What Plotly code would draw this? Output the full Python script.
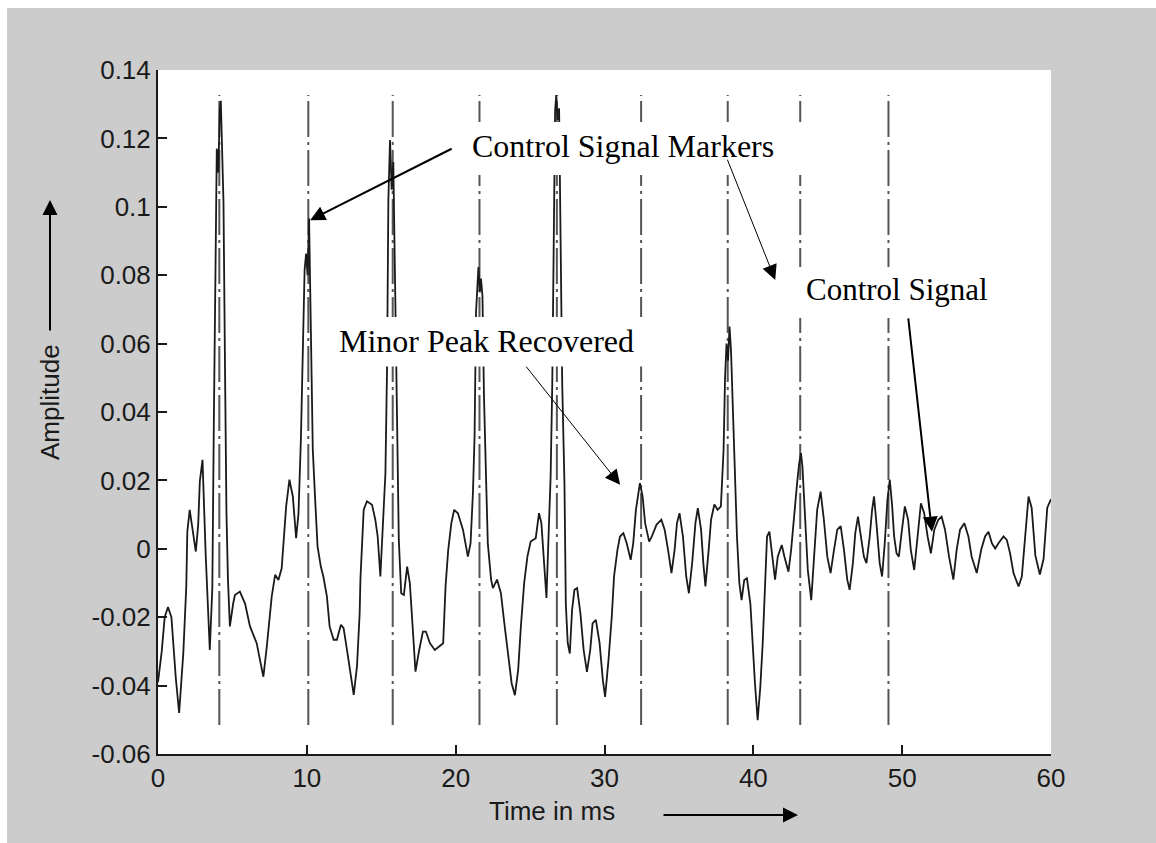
import plotly.graph_objects as go

# ---------------- data ----------------
time_ms = [
    0.0, 0.25, 0.45, 0.67, 0.9, 1.05, 1.2, 1.42, 1.7, 1.9, 1.97, 2.13, 2.36, 2.54, 2.7, 2.81, 2.99, 3.2, 3.48, 3.65,
    3.75, 3.85, 3.95, 4.05, 4.15, 4.22, 4.3, 4.4, 4.5, 4.6, 4.7, 4.83,
    5.05, 5.17, 5.5, 5.85, 6.18, 6.63, 6.85, 7.08, 7.3, 7.53, 7.64, 7.87, 8.09, 8.31, 8.47, 8.61, 8.83, 9.06, 9.28, 9.44, 9.6,
    9.75, 9.85, 9.95, 10.05, 10.15, 10.22, 10.3, 10.4, 10.56, 10.72,
    10.94, 11.11, 11.35, 11.53, 11.8, 12.02, 12.29, 12.47, 12.7, 12.92, 13.15, 13.37, 13.55, 13.6, 13.82, 14.04, 14.38, 14.6, 14.76, 14.94, 15.06,
    15.28, 15.39, 15.48, 15.59, 15.7, 15.81, 15.92, 16.0, 16.07, 16.18,
    16.34, 16.52, 16.74, 16.92, 17.08, 17.3, 17.55, 17.8, 18.0, 18.27, 18.6, 19.16, 19.32, 19.5, 19.71, 19.9, 20.15, 20.49, 20.82, 21.0,
    21.16, 21.27, 21.37, 21.53, 21.62, 21.7, 21.8, 21.9, 22.04, 22.16,
    22.38, 22.5, 22.78, 23.04, 23.27, 23.53, 23.76, 23.98, 24.2, 24.38, 24.6, 24.82, 25.04, 25.38, 25.6, 25.76, 25.93, 26.1, 26.27,
    26.38, 26.49, 26.58, 26.68, 26.76, 26.85, 26.95, 27.05, 27.16, 27.31, 27.4,
    27.53, 27.67, 27.82, 27.98, 28.16, 28.38, 28.6, 28.82, 29.04, 29.2, 29.42, 29.67, 29.89, 30.04, 30.27, 30.49, 30.64, 30.87,
    31.04, 31.27, 31.49, 31.76, 31.93, 32.11, 32.38, 32.56, 32.73, 33.0, 33.18, 33.49, 33.82, 34.04, 34.27, 34.5, 34.71, 34.87,
    35.04, 35.27, 35.49, 35.67, 35.89, 36.11, 36.27, 36.49, 36.64, 36.78, 37.0, 37.16, 37.38, 37.6, 37.82,
    38.0, 38.1, 38.2, 38.3, 38.4, 38.5, 38.6, 38.72, 38.9,
    39.06, 39.21, 39.39, 39.57, 39.8, 39.96, 40.11, 40.29, 40.47, 40.63, 40.79, 40.92, 41.08, 41.3, 41.46, 41.64, 41.91, 42.09, 42.36, 42.54,
    42.76, 42.94, 43.08, 43.2, 43.3, 43.43, 43.66,
    43.89, 44.07, 44.29, 44.52, 44.74, 44.97, 45.19, 45.42, 45.64, 45.87, 46.09, 46.31, 46.47, 46.69, 46.85, 47.03, 47.25, 47.43, 47.6,
    47.82, 47.98, 48.11, 48.27, 48.49, 48.65, 48.83, 49.01, 49.17, 49.33, 49.46, 49.62, 49.78, 49.96, 50.18, 50.4, 50.58, 50.81,
    51.03, 51.26, 51.48, 51.71, 51.93, 52.16, 52.43, 52.65, 52.88, 53.15, 53.44, 53.66, 53.89, 54.18, 54.45, 54.67, 55.01, 55.31,
    55.57, 55.8, 56.03, 56.25, 56.47, 56.81, 57.03, 57.25, 57.48, 57.82, 58.04, 58.27, 58.49, 58.7, 58.95, 59.25, 59.5, 59.75, 60.0,
]
amplitude = [
    -0.039, -0.030, -0.020, -0.017, -0.020, -0.030, -0.038, -0.048, -0.0305, -0.011, 0.005, 0.0114, 0.0036, -0.0008, 0.007, 0.0197, 0.026, -0.0013, -0.0296, -0.0115,
    0.036, 0.09, 0.117, 0.11, 0.128, 0.131, 0.118, 0.1015, 0.054, 0.0104, -0.009, -0.0227,
    -0.016, -0.0135, -0.0125, -0.016, -0.0227, -0.0276, -0.0325, -0.0374, -0.029, -0.0198, -0.014, -0.0076, -0.0091, -0.0057, 0.0026, 0.0124, 0.0202, 0.0153, 0.0031, 0.0104, 0.0319,
    0.06, 0.0815, 0.0863, 0.08, 0.0966, 0.078, 0.056, 0.029, 0.0143, 0.0007,
    -0.0052, -0.0081, -0.014, -0.0227, -0.0266, -0.0266, -0.0222, -0.0232, -0.0296, -0.0364, -0.0427, -0.0344, -0.0188, -0.009, 0.0114, 0.0139, 0.0129, 0.0085, 0.0036, -0.0081, 0.0031,
    0.0221, 0.053, 0.1024, 0.1195, 0.105, 0.1131, 0.081, 0.05, 0.0378, 0.0026,
    -0.013, -0.0135, -0.0052, -0.01, -0.0208, -0.0359, -0.0296, -0.0242, -0.0242, -0.0276, -0.0296, -0.0276, -0.011, -0.0003, 0.0075, 0.0114, 0.0104, 0.0056, -0.0023, 0.0016,
    0.0163, 0.0329, 0.0693, 0.0824, 0.075, 0.079, 0.074, 0.045, 0.021, 0.0016,
    -0.009, -0.0115, -0.009, -0.013, -0.0218, -0.0315, -0.0393, -0.0428, -0.0354, -0.0228, -0.0101, -0.0023, 0.0021, 0.0031, 0.0104, 0.0075, -0.0042, -0.0144, 0.0075,
    0.021, 0.048, 0.0912, 0.128, 0.1327, 0.1254, 0.1288, 0.09, 0.048, 0.0192, -0.016,
    -0.0276, -0.0306, -0.0179, -0.012, -0.0115, -0.0188, -0.0296, -0.036, -0.0296, -0.0218, -0.0208, -0.0276, -0.0384, -0.0433, -0.0325, -0.0198, -0.0081, -0.0003,
    0.0036, 0.0046, 0.0016, -0.0032, 0.0016, 0.0114, 0.0192, 0.0153, 0.0075, 0.0021, 0.0036, 0.007, 0.0085, 0.0056, -0.0003, -0.0071, -0.0003, 0.0075,
    0.0104, 0.0036, -0.0081, -0.013, -0.0042, 0.0075, 0.0119, 0.0056, -0.0042, -0.011, -0.0003, 0.0085, 0.013, 0.0114, 0.0124,
    0.0289, 0.05, 0.06, 0.055, 0.065, 0.058, 0.045, 0.029, 0.0036,
    -0.01, -0.015, -0.0091, -0.0086, -0.016, -0.0296, -0.0394, -0.0501, -0.0403, -0.0276, -0.01, 0.0036, 0.005, -0.0042, -0.009, -0.0023, 0.0011, -0.0023, -0.0067, -0.0003,
    0.0114, 0.0192, 0.025, 0.028, 0.024, 0.0124, -0.0062,
    -0.015, -0.0042, 0.0114, 0.0167, 0.0085, -0.0023, -0.0071, -0.0003, 0.0056, 0.0066, -0.0003, -0.009, -0.012, -0.0042, 0.0046, 0.0094, 0.0036, -0.0023, -0.0042,
    0.0036, 0.0114, 0.0153, 0.0075, -0.0042, -0.0081, 0.0016, 0.0143, 0.0202, 0.0124, 0.0036, -0.0013, -0.0023, 0.0046, 0.0124, 0.0085, -0.0003, -0.0062,
    0.0026, 0.0133, 0.0104, 0.0036, -0.0013, 0.0056, 0.0085, 0.0094, 0.0056, -0.0023, -0.009, -0.0003, 0.0056, 0.0075, 0.0036, -0.0023, -0.0071, -0.0003,
    0.0036, 0.005, 0.0016, 0.0001, 0.0016, 0.0036, 0.0026, -0.0013, -0.0071, -0.011, -0.0081, 0.0036, 0.0153, 0.012, -0.002, -0.0075, -0.003, 0.012, 0.0145,
]

marker_times = [4.12, 10.1, 15.77, 21.6, 26.8, 32.46, 38.28, 43.15, 49.08]
marker_low = -0.0515
marker_high = 0.1327

x_tickvals = [0, 10, 20, 30, 40, 50, 60]
y_tickvals = [-0.06, -0.04, -0.02, 0, 0.02, 0.04, 0.06, 0.08, 0.1, 0.12, 0.14]
y_ticktext = ["-0.06", "-0.04", "-0.02", "0", "0.02", "0.04", "0.06", "0.08", "0.1", "0.12", "0.14"]

# ---------------- figure ----------------
W, H = 1156, 843
ML, MR, MT, MB = 158, 105, 70, 89
PW, PH = W - ML - MR, H - MT - MB


def px_x(px):
    return (px - ML) / PW


def px_y(py):
    return (H - MB - py) / PH


sans = "Liberation Sans, Arial, sans-serif"
serif = "Liberation Serif, Times New Roman, serif"
dark = "#1a1a1a"

mx, my = [], []
for t in marker_times:
    mx += [t, t, None]
    my += [marker_low, marker_high, None]

fig = go.Figure()
fig.add_trace(go.Scatter(x=mx, y=my, mode="lines",
                         line=dict(color="#555555", width=2, dash="36px,5px,3px,5px"),
                         hoverinfo="skip", showlegend=False))
fig.add_trace(go.Scatter(x=time_ms, y=amplitude, mode="lines",
                         line=dict(color=dark, width=1.8),
                         showlegend=False))

shapes = [
    # white strips at the left/top edge of the image
    dict(type="rect", xref="paper", yref="paper", x0=px_x(0), x1=px_x(7), y0=px_y(H), y1=px_y(0),
         fillcolor="white", line=dict(width=0), layer="below"),
    dict(type="rect", xref="paper", yref="paper", x0=px_x(0), x1=px_x(W), y0=px_y(8), y1=px_y(0),
         fillcolor="white", line=dict(width=0), layer="below"),
    # white label boxes
    dict(type="rect", xref="x", yref="y", x0=19.76, x1=46.37, y0=0.1093, y1=0.1248,
         fillcolor="white", line=dict(width=0), layer="above"),
    dict(type="rect", xref="x", yref="y", x0=42.27, x1=57.73, y0=0.0675, y1=0.0824,
         fillcolor="white", line=dict(width=0), layer="above"),
    dict(type="rect", xref="x", yref="y", x0=10.55, x1=34.21, y0=0.0533, y1=0.0678,
         fillcolor="white", line=dict(width=0), layer="above"),
]

ann = []
# text labels
ann.append(dict(x=31.22, y=0.1178, xref="x", yref="y", text="Control Signal Markers", showarrow=False,
                font=dict(family=serif, size=32, color="black"), xanchor="center", yanchor="middle"))
ann.append(dict(x=22.04, y=0.0608, xref="x", yref="y", text="Minor Peak Recovered", showarrow=False,
                font=dict(family=serif, size=32, color="black"), xanchor="center", yanchor="middle"))
ann.append(dict(x=49.63, y=0.0757, xref="x", yref="y", text="Control Signal", showarrow=False,
                font=dict(family=serif, size=31, color="black"), xanchor="center", yanchor="middle"))
# data arrows
for hx, hy, tx, ty, w, s in [
    (10.22, 0.0961, 19.83, 0.1172, 2, 1.5),
    (41.47, 0.0786, 38.22, 0.1142, 1, 3),
    (31.05, 0.0187, 24.66, 0.0537, 1, 3),
    (52.0, 0.005, 50.4, 0.0678, 2, 1.5),
]:
    ann.append(dict(x=hx, y=hy, xref="x", yref="y", ax=tx, ay=ty, axref="x", ayref="y",
                    text="", showarrow=True, arrowhead=2, arrowsize=s, arrowwidth=w,
                    arrowcolor="black", standoff=0))
# axis labels with arrows
ann.append(dict(x=px_x(50), y=px_y(402), xref="paper", yref="paper", text="Amplitude", textangle=-90,
                xanchor="center", yanchor="middle",
                showarrow=False, font=dict(family=sans, size=26, color=dark)))
ann.append(dict(x=px_x(50), y=px_y(200), xref="paper", yref="paper", ax=0, ay=132, text="",
                showarrow=True, arrowhead=2, arrowsize=1.5, arrowwidth=2, arrowcolor="black", standoff=0))
ann.append(dict(x=px_x(552), y=px_y(811), xref="paper", yref="paper", text="Time in ms",
                xanchor="center", yanchor="middle",
                showarrow=False, font=dict(family=sans, size=26, color=dark)))
ann.append(dict(x=px_x(798), y=px_y(815), xref="paper", yref="paper", ax=-136, ay=0, text="",
                showarrow=True, arrowhead=2, arrowsize=1.5, arrowwidth=2, arrowcolor="black", standoff=0))

fig.update_layout(
    width=W, height=H,
    margin=dict(l=ML, r=MR, t=MT, b=MB, pad=0),
    paper_bgcolor="#cccccc", plot_bgcolor="white",
    shapes=shapes, annotations=ann,
    showlegend=False,
    xaxis=dict(range=[0, 60], tickvals=x_tickvals, ticks="inside", ticklen=9, tickwidth=2, tickcolor=dark,
               showline=True, linecolor=dark, linewidth=2, showgrid=False, zeroline=False, mirror=False,
               tickfont=dict(family=sans, size=26, color=dark)),
    yaxis=dict(range=[-0.06, 0.14], tickvals=y_tickvals, ticktext=y_ticktext, ticks="inside", ticklen=9,
               tickwidth=2, tickcolor=dark, showline=True, linecolor=dark, linewidth=2, showgrid=False,
               zeroline=False, mirror=False, tickfont=dict(family=sans, size=26, color=dark)),
)

fig.write_html("out.html")
